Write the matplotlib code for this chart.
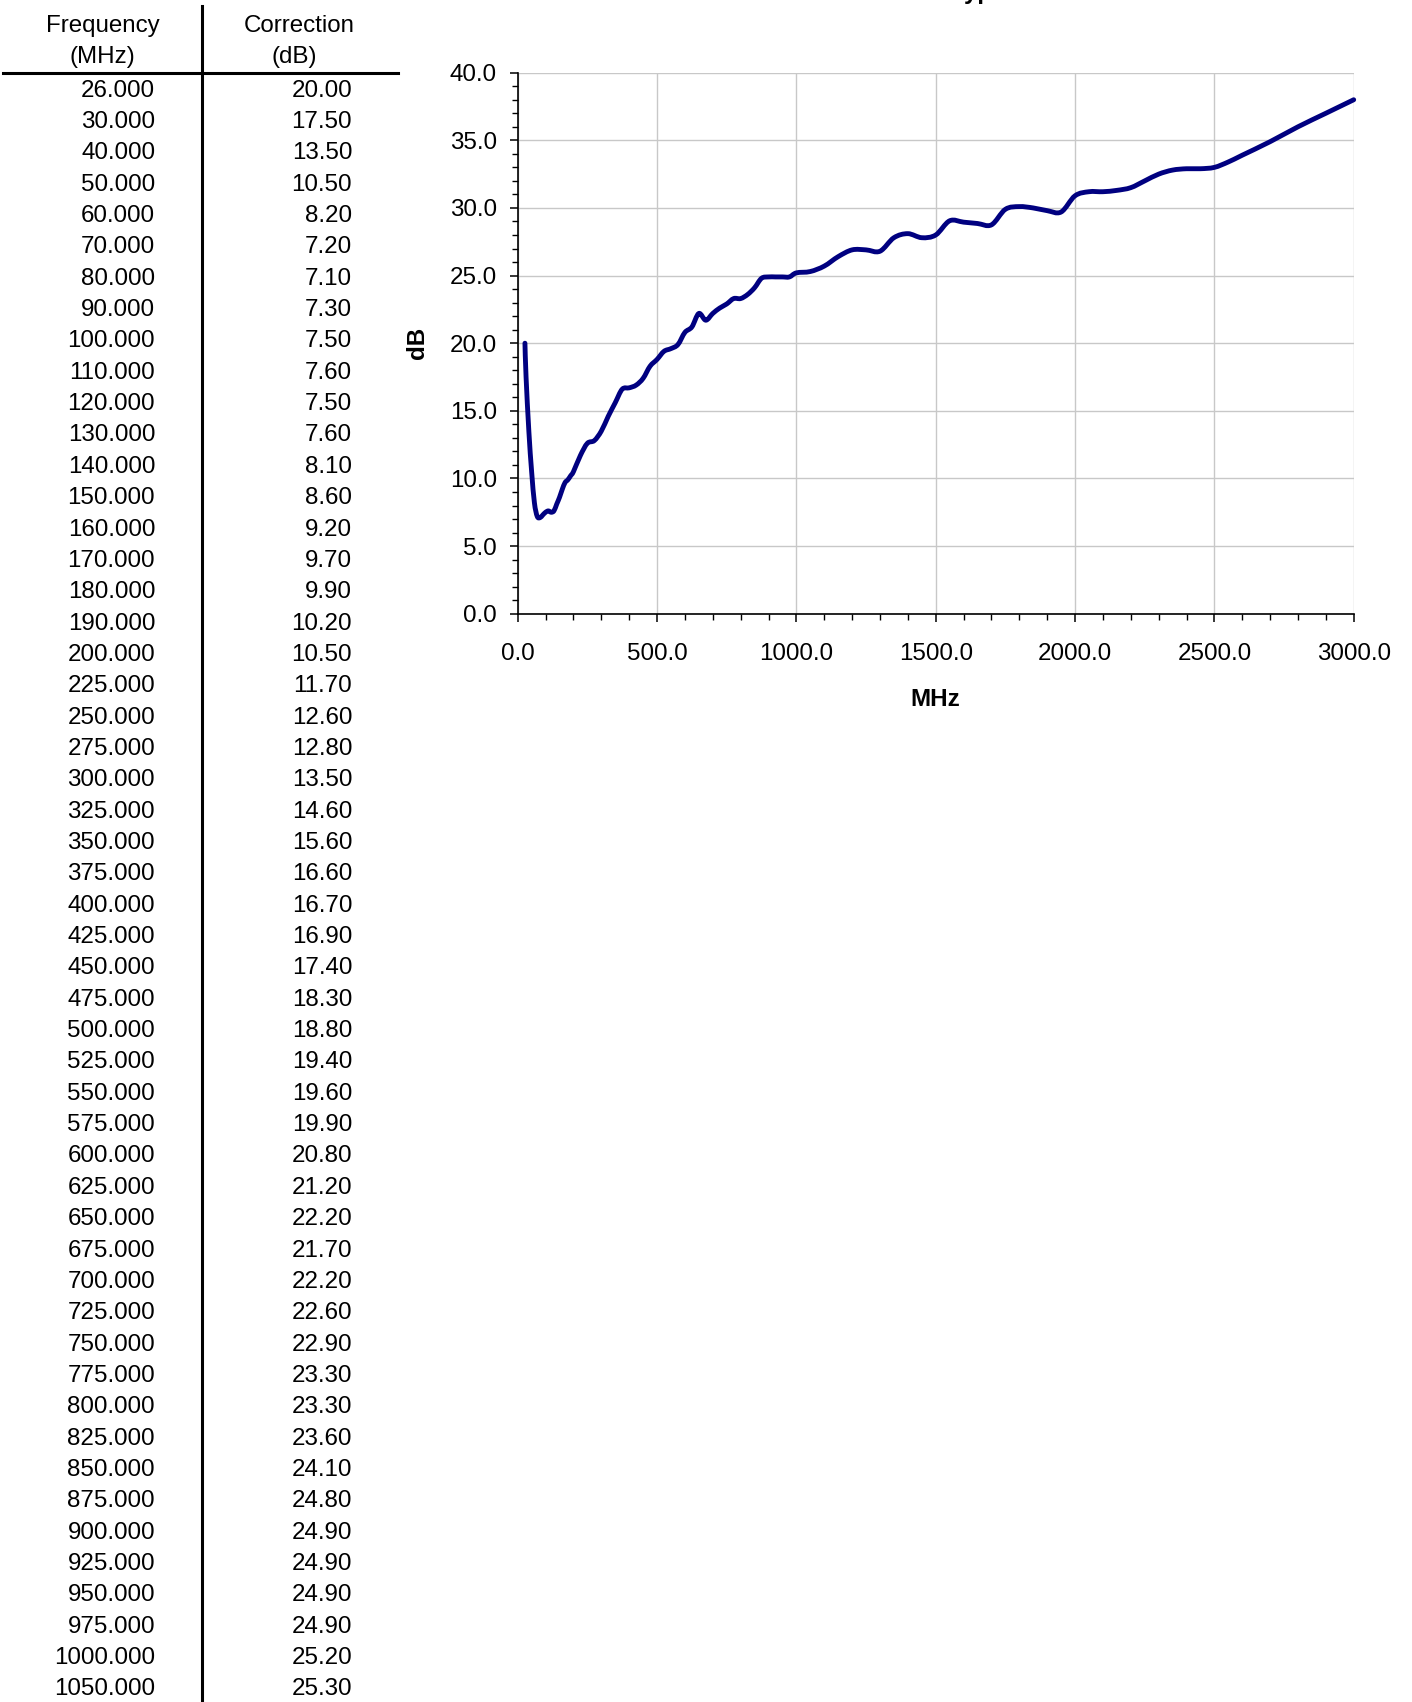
import matplotlib
matplotlib.use("Agg")
import matplotlib.pyplot as plt
from matplotlib.path import Path
from matplotlib.patches import PathPatch
from matplotlib.ticker import MultipleLocator, FormatStrFormatter

plt.rcParams['font.family'] = ['Liberation Sans', 'DejaVu Sans']

# --- data: correction table (MHz -> dB) ---
freq = [26, 30, 40, 50, 60, 70, 80, 90, 100, 110, 120, 130, 140, 150, 160, 170, 180, 190, 200,
        225, 250, 275, 300, 325, 350, 375, 400, 425, 450, 475, 500, 525, 550, 575, 600, 625,
        650, 675, 700, 725, 750, 775, 800, 825, 850, 875, 900, 925, 950, 975, 1000, 1050,
        1100, 1150, 1200, 1250, 1300, 1350, 1400, 1450, 1500, 1550, 1600, 1650, 1700, 1750,
        1800, 1850, 1900, 1950, 2000, 2050, 2100, 2150, 2200, 2250, 2300, 2350, 2400, 2450,
        2500, 2550, 2600, 2700, 2800, 2900, 3000]
corr = [20.00, 17.50, 13.50, 10.50, 8.20, 7.20, 7.10, 7.30, 7.50, 7.60, 7.50, 7.60, 8.10, 8.60,
        9.20, 9.70, 9.90, 10.20, 10.50, 11.70, 12.60, 12.80, 13.50, 14.60, 15.60, 16.60, 16.70,
        16.90, 17.40, 18.30, 18.80, 19.40, 19.60, 19.90, 20.80, 21.20, 22.20, 21.70, 22.20,
        22.60, 22.90, 23.30, 23.30, 23.60, 24.10, 24.80, 24.90, 24.90, 24.90, 24.90, 25.20,
        25.30,
        25.70, 26.40, 26.90, 26.90, 26.80, 27.80, 28.10, 27.80, 28.00, 29.05, 28.95, 28.85,
        28.75, 29.90, 30.10, 30.00, 29.80, 29.70, 30.90, 31.20, 31.20, 31.30, 31.50, 32.00,
        32.50, 32.80, 32.90, 32.90, 33.00, 33.40, 33.90, 34.90, 36.00, 37.00, 38.00]

W, H = 1412, 1702
fig = plt.figure(figsize=(W / 100, H / 100), dpi=100)
fs = 17.4

def fx(px):
    return px / W

def fy(py):
    return 1 - py / H

# === table on the left (only the rows that fit on the page) ===
fig.text(fx(102.5), fy(26), 'Frequency', ha='center', va='center', fontsize=fs)
fig.text(fx(102.5), fy(57), '(MHz)', ha='center', va='center', fontsize=fs)
fig.text(fx(299), fy(26), 'Correction', ha='center', va='center', fontsize=fs)
fig.text(fx(294), fy(57), '(dB)', ha='center', va='center', fontsize=fs)

fig.add_artist(plt.Line2D([fx(3), fx(398)], [fy(72.5), fy(72.5)], color='black', lw=2.2))
fig.add_artist(plt.Line2D([fx(201.7), fx(201.7)], [fy(6), fy(H + 5)], color='black', lw=2.2))

row0, step = 88.0, 31.35
for i, (f, c) in enumerate(zip(freq, corr)):
    yb = row0 + i * step + 8.6
    if yb + 5 > H:
        break
    fig.text(fx(155), fy(yb), f'{f:.3f}', ha='right', va='baseline', fontsize=fs)
    fig.text(fx(352), fy(yb), f'{c:.2f}', ha='right', va='baseline', fontsize=fs)

# === chart ===
left, right, top, bottom = 517.7, 1353.7, 72.7, 613.7
ax = fig.add_axes([fx(left), fy(bottom), fx(right - left), (bottom - top) / H])

# smoothed line like the spreadsheet: bezier segments through the data points
verts = [(freq[0], corr[0])]
codes = [Path.MOVETO]
n = len(freq)
for i in range(n - 1):
    p0 = (freq[max(i - 1, 0)], corr[max(i - 1, 0)])
    p1 = (freq[i], corr[i])
    p2 = (freq[i + 1], corr[i + 1])
    p3 = (freq[min(i + 2, n - 1)], corr[min(i + 2, n - 1)])
    c1 = (p1[0] + (p2[0] - p0[0]) / 6, p1[1] + (p2[1] - p0[1]) / 6)
    c2 = (p2[0] - (p3[0] - p1[0]) / 6, p2[1] - (p3[1] - p1[1]) / 6)
    verts += [c1, c2, p2]
    codes += [Path.CURVE4] * 3
ax.add_patch(PathPatch(Path(verts, codes), facecolor='none', edgecolor='#000080', lw=3.5,
                       joinstyle='round', capstyle='round', zorder=3, clip_on=False))

ax.set_xlim(0, 3000)
ax.set_ylim(0, 40)
ax.xaxis.set_major_locator(MultipleLocator(500))
ax.xaxis.set_minor_locator(MultipleLocator(100))
ax.yaxis.set_major_locator(MultipleLocator(5))
ax.yaxis.set_minor_locator(MultipleLocator(1))
ax.xaxis.set_major_formatter(FormatStrFormatter('%.1f'))
ax.yaxis.set_major_formatter(FormatStrFormatter('%.1f'))

ax.grid(True, which='major', color='#c8c8c8', lw=1.0)
ax.set_axisbelow(True)
for s in ['top', 'right']:
    ax.spines[s].set_visible(False)
for s in ['left', 'bottom']:
    ax.spines[s].set_color('black')
    ax.spines[s].set_linewidth(1.2)

ax.tick_params(which='major', direction='out', length=6, width=1.1, labelsize=fs, color='black')
ax.tick_params(which='minor', direction='out', length=4.5, width=1.0, color='black')
ax.tick_params(axis='y', which='major', pad=9)
ax.tick_params(axis='x', which='major', pad=15)

fig.text(fx(417), fy(343), 'dB', ha='center', va='center', rotation=90, fontsize=fs,
         fontweight='bold')
fig.text(fx((left + right) / 2), fy(700), 'MHz', ha='center', va='center', fontsize=fs,
         fontweight='bold')

# title, mostly cut off by the top edge
fig.text(fx(951), 1 + 1.5 / H, 'Typical Correction Factor', ha='left', va='baseline',
         fontsize=fs, fontweight='bold')

fig.savefig('out.png', dpi=100)
